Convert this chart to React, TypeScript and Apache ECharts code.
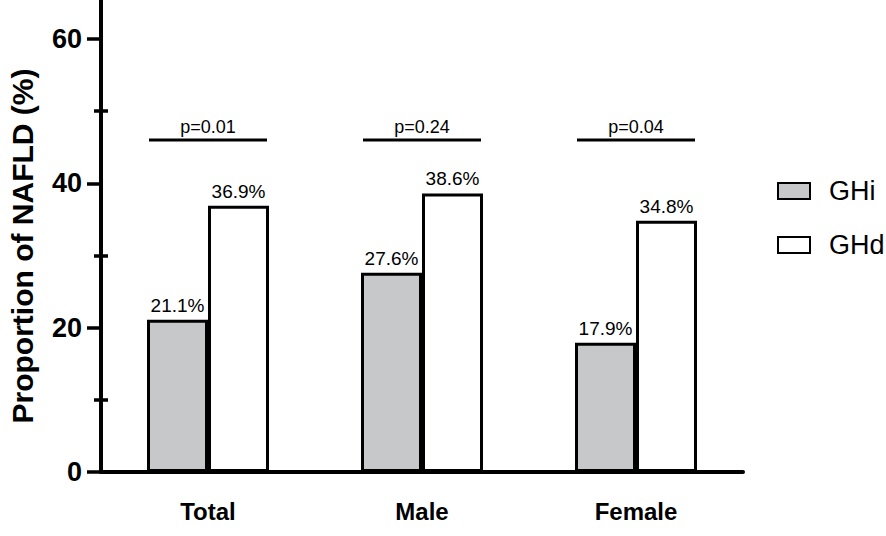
import React, { useEffect, useRef } from "react";
import * as echarts from "echarts";

const categories = ["Total", "Male", "Female"];
const seriesNames = ["GHi", "GHd"];
const ghiValues = [21.1, 27.6, 17.9];
const ghdValues = [36.9, 38.6, 34.8];
const pTexts = ["p=0.01", "p=0.24", "p=0.04"];
const pLevels = [46, 46, 46];
const yMajorTicks = [0, 20, 40, 60];
const yMinorTicks = [10, 30, 50];

const FONT = "'Liberation Sans', Arial, sans-serif";
const BAR_W = 61;
const Y_MAX = 65.4;

export default function App() {
  const ref = useRef<HTMLDivElement>(null);

  useEffect(() => {
    if (!ref.current) return;
    const chart = echarts.init(ref.current, null, { renderer: "svg" });

    const barLabel = {
      show: true,
      position: "top",
      distance: 5,
      color: "#000",
      fontSize: 19,
      fontFamily: FONT,
      formatter: (p: any) => Number(p.value).toFixed(1) + "%",
    };

    const option: any = {
      animation: false,
      backgroundColor: "#fff",
      grid: {
        left: 101,
        right: 143,
        top: 0,
        bottom: 64,
        containLabel: false,
        outerBoundsMode: "none",
      },
      legend: {
        orient: "vertical",
        left: 772,
        top: 171,
        icon: "rect",
        itemWidth: 32,
        itemHeight: 16,
        itemGap: 24,
        selectedMode: false,
        data: seriesNames,
        textStyle: {
          fontSize: 27,
          lineHeight: 30,
          fontFamily: FONT,
          color: "#000",
          padding: [0, 0, 0, 14],
        },
      },
      xAxis: {
        type: "category",
        data: categories,
        axisLine: { show: true, lineStyle: { color: "#000", width: 4 } },
        axisTick: { show: false },
        axisLabel: {
          color: "#000",
          fontSize: 24,
          fontWeight: "bold",
          fontFamily: FONT,
          margin: 27,
        },
        splitLine: { show: false },
      },
      yAxis: [
        {
          type: "value",
          min: 0,
          max: Y_MAX,
          position: "left",
          name: "Proportion of NAFLD (%)",
          nameLocation: "middle",
          nameGap: 64,
          nameTextStyle: {
            color: "#000",
            fontSize: 30,
            lineHeight: 30,
            fontWeight: "bold",
            fontFamily: FONT,
            padding: [0, 20, 0, 0],
          },
          axisLine: { show: true, lineStyle: { color: "#000", width: 4 } },
          axisTick: {
            show: true,
            length: 14,
            customValues: yMajorTicks,
            lineStyle: { color: "#000", width: 3.5 },
          },
          axisLabel: {
            customValues: yMajorTicks,
            margin: 19,
            color: "#000",
            fontSize: 27,
            fontWeight: "bold",
            fontFamily: FONT,
          },
          splitLine: { show: false },
        },
        {
          type: "value",
          min: 0,
          max: Y_MAX,
          position: "left",
          offset: -7,
          axisLine: { show: false },
          axisTick: {
            show: true,
            length: 14,
            customValues: yMinorTicks,
            lineStyle: { color: "#000", width: 3.5 },
          },
          axisLabel: { show: false },
          splitLine: { show: false },
        },
      ],
      series: [
        {
          name: seriesNames[0],
          type: "bar",
          data: ghiValues,
          barWidth: BAR_W,
          barGap: "0%",
          itemStyle: { color: "#c7c8ca", borderColor: "#000", borderWidth: 3 },
          label: barLabel,
        },
        {
          name: seriesNames[1],
          type: "bar",
          data: ghdValues,
          barWidth: BAR_W,
          barGap: "0%",
          itemStyle: { color: "#ffffff", borderColor: "#000", borderWidth: 3 },
          label: barLabel,
        },
        {
          name: "p",
          type: "custom",
          coordinateSystem: "cartesian2d",
          z: 5,
          encode: { x: 0, y: 1 },
          data: categories.map((_, i) => [i, pLevels[i]]),
          renderItem: (params: any, api: any) => {
            const idx = params.dataIndex;
            const pt = api.coord([api.value(0), api.value(1)]);
            const half = BAR_W - 2;
            return {
              type: "group",
              children: [
                {
                  type: "line",
                  shape: { x1: pt[0] - half, y1: pt[1], x2: pt[0] + half, y2: pt[1] },
                  style: { stroke: "#000", lineWidth: 3 },
                },
                {
                  type: "text",
                  style: {
                    text: pTexts[idx],
                    x: pt[0],
                    y: pt[1] - 4,
                    align: "center",
                    verticalAlign: "bottom",
                    fontSize: 18,
                    fontFamily: FONT,
                    fill: "#000",
                  },
                },
              ],
            };
          },
        },
      ],
    };

    chart.setOption(option);
    return () => chart.dispose();
  }, []);

  return (
    <div
      ref={ref}
      style={{ position: "fixed", left: 0, top: 0, width: 886, height: 536, background: "#fff" }}
    />
  );
}
